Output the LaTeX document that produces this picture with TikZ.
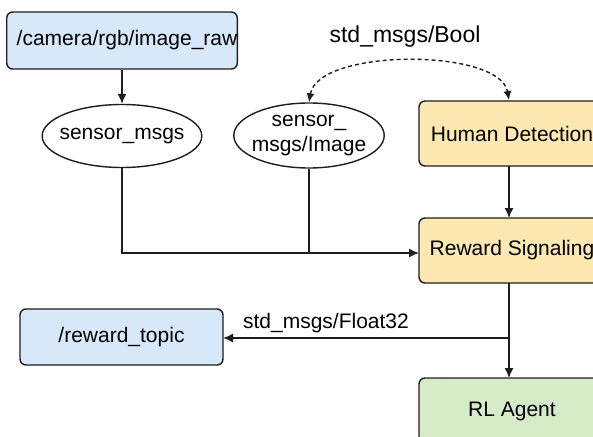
\documentclass[tikz,border=0pt]{standalone}
\usepackage{fontspec}
\setmainfont{Liberation Sans}
\usetikzlibrary{shapes.geometric,arrows.meta}
\definecolor{bluefill}{HTML}{D6E8FA}
\definecolor{yellowfill}{HTML}{FCE8B0}
\definecolor{greenfill}{HTML}{D6EBC8}
\definecolor{linec}{HTML}{1E1E1E}
\tikzset{
  box/.style={draw=linec, line width=1.4pt, rounded corners=6pt, inner sep=0pt, font=\fontsize{21}{25}\selectfont},
  oval/.style={draw=linec, line width=1.4pt, ellipse, fill=white, font=\fontsize{21}{25}\selectfont, align=center},
  conn/.style={draw=linec, line width=1.4pt, -{Latex[length=10pt,width=9pt]}},
  lbl/.style={font=\fontsize{21}{25}\selectfont, inner sep=0pt}
}
\begin{document}
\begin{tikzpicture}[x=1pt,y=-1pt]
\clip (0,0) rectangle (593,436);
\fill[white] (0,0) rectangle (593,436);
\node[box, fill=bluefill, minimum width=230pt, minimum height=57pt] (cam) at (122,40.5) {\hspace*{10pt}/camera/rgb/image\_raw};
\node[oval, inner xsep=-6pt, inner ysep=2pt, minimum height=63pt] (s1) at (122,136) {sensor\_msgs};
\node[oval, inner xsep=-4pt, inner ysep=0pt, minimum height=65pt] (s2) at (309,135.5) {sensor\_\\msgs/Image};
\node[box, fill=yellowfill, minimum width=186pt, minimum height=65pt] (hd) at (512,133.5) {Human Detection};
\node[box, fill=yellowfill, minimum width=186pt, minimum height=65pt] (rs) at (512,250.5) {Reward Signaling};
\node[box, fill=bluefill, minimum width=203pt, minimum height=56pt] (rt) at (121.5,337) {/reward\_topic};
\node[box, fill=greenfill, minimum width=186pt, minimum height=66pt] (rl) at (512,411) {RL Agent};
\node[lbl, font=\fontsize{23}{27}\selectfont] (bool) at (405,37) {std\_msgs/Bool};
\coordinate (hdtop) at (509,100);
\coordinate (hdbot) at (509,166);
\coordinate (rstop) at (509,218);
\coordinate (rsbot) at (509,283);
\coordinate (rltop) at (509,378);
\coordinate (rsin) at (419,253);
\coordinate (br) at (509,338);
\coordinate (rtin) at (223,338);
\draw[conn] (cam.south) -- (s1.north);
\draw[linec, line width=1.4pt, dashed, dash pattern=on 4pt off 3pt, {Latex[length=9pt,width=8pt]}-{Latex[length=9pt,width=8pt]}]
  (s2.north) .. controls (318,48) and (500,48) .. (hdtop);
\draw[conn] (s1.south) |- (rsin);
\draw[draw=linec, line width=1.4pt] (s2.south) -- (s2.south |- rsin);
\draw[conn] (hdbot) -- (rstop);
\draw[conn] (rsbot) -- (rltop);
\draw[conn] (br) -- node[lbl, above=4pt, pos=0.64] (f32) {std\_msgs/Float32} (rtin);
\end{tikzpicture}
\end{document}
